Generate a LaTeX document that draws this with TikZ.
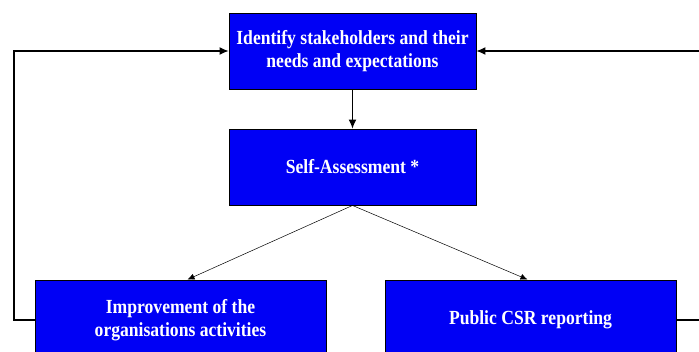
\documentclass[tikz,border=0pt]{standalone}
\usepackage{fontspec}
\setmainfont{Liberation Serif}
\newfontfamily\boxfont[FakeStretch=0.88]{Liberation Serif Bold}
\usetikzlibrary{arrows.meta,positioning}

\tikzset{
  stage/.style={draw=black, line width=0.9pt, fill={rgb,255:red,0;green,0;blue,245},
    text=white, align=center, minimum width=247pt, minimum height=76pt,
    inner sep=0pt, font=\boxfont\fontsize{20}{23}\selectfont},
  feed/.style={line width=1.2pt, -{Latex[length=9pt,width=8pt]}},
  split/.style={line width=0.5pt, -{Latex[length=7pt,width=6pt]}}
}

\begin{document}
\begin{tikzpicture}[x=1pt,y=-1pt]
  \useasboundingbox (0,0) rectangle (699,351);

  % the three stages of the cycle
  \node[stage] (ident) at (352.5,51) {Identify stakeholders and their\\needs and expectations};
  \node[stage] (self) at (352.5,167) {Self-Assessment *};
  \node[stage, minimum width=291pt, minimum height=80pt] (impr) at (180.5,320)
    {Improvement of the\\organisations activities};
  \node[stage, minimum width=291pt, minimum height=80pt] (csr) at (530.5,320)
    {Public CSR reporting};

  % forward arrows
  \draw[feed] (ident) -- (self);
  \draw[split] (self.south) -- ([xshift=7pt]impr.north);
  \draw[split] (self.south) -- ([xshift=-3pt]csr.north);

  % feedback loops back to the top
  \coordinate (lturn) at (14,51);
  \coordinate (rtop) at (699,51);
  \coordinate (rbot) at (699,320);
  \draw[feed] (impr.west) -| (lturn) -- (ident.west);
  \draw[feed] (rtop) -- (ident.east);
  \draw[line width=1.2pt] (csr.east) -- (rbot);
\end{tikzpicture}
\end{document}
